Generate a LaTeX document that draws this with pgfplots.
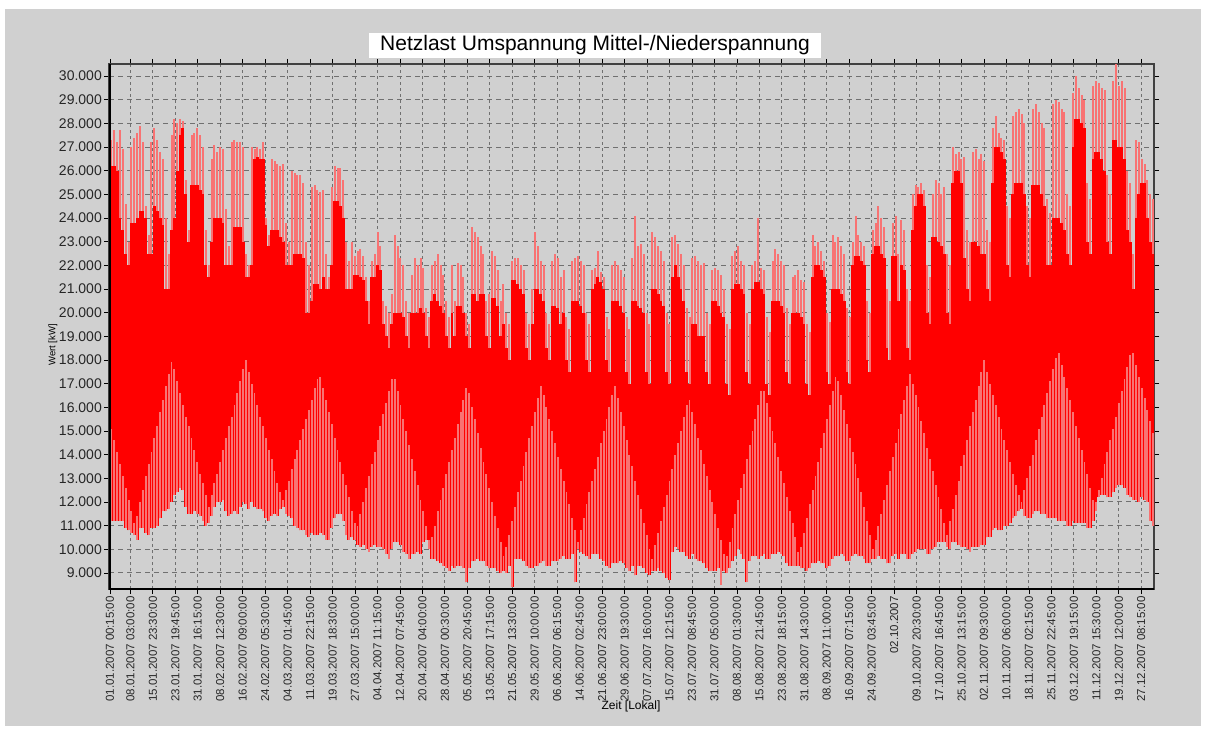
\documentclass[border=0pt]{standalone}
\usepackage{fontspec}
\setmainfont{Liberation Sans}
\usepackage{pgfplots}
\pgfplotsset{compat=1.18}
\usepackage{pgfplotstable}
\definecolor{bggrey}{RGB}{208,208,208}
\definecolor{lightred}{RGB}{248,115,115}
\definecolor{gridgrey}{RGB}{112,112,112}
\definecolor{coreRed}{RGB}{255,0,0}

% day, daily minimum (lo), lower edge of dense band (clo), upper edge of dense band (chi), daily maximum (hi), kW
\pgfplotstableread{
d lo clo chi hi
0 11200 15100 26200 27300
1 11200 14600 26200 27700
2 11200 14100 26000 27200
3 11200 13600 24000 27700
4 11200 13100 23500 26900
5 10900 12600 22500 24600
6 10800 12100 22000 23000
7 10700 11600 23800 27000
8 10600 11100 23800 27400
9 10400 11400 24000 27600
10 10900 12000 24300 27900
11 10900 12500 24300 27200
12 10700 13100 24000 24500
13 10600 13600 22500 23300
14 10900 14100 22500 27200
15 10900 14700 24500 27800
16 11000 15200 24300 27300
17 11300 15800 24000 26800
18 11600 16300 23700 26500
19 11600 16900 21000 24000
20 11700 17400 21000 22500
21 12000 17900 23500 27500
22 12300 17600 24000 28200
23 12400 17100 26000 28000
24 12600 16600 27500 28200
25 12500 16100 27800 28100
26 11800 15600 25000 25600
27 11500 15200 23000 23500
28 11500 14700 25400 27500
29 11600 14200 25400 27600
30 11500 13700 25400 27800
31 11400 13200 25200 27500
32 11200 12800 25000 27000
33 11000 12300 22000 23500
34 11100 11800 21500 22000
35 11400 12300 23000 26500
36 11800 12800 24000 27100
37 12000 13200 24000 26800
38 12000 13700 24000 27000
39 12100 14200 23800 26900
40 11600 14700 22000 24400
41 11400 15200 22000 22800
42 11500 15600 22000 27200
43 11600 16100 23600 27300
44 11500 16600 23600 27200
45 11800 17100 23600 27200
46 12000 17600 23000 27000
47 11900 18000 21500 22500
48 11700 17500 21500 22000
49 12000 17000 22000 27000
50 11800 16600 26500 26900
51 11700 16100 26600 27000
52 11700 15600 26500 26900
53 11600 15200 26500 27200
54 11300 14700 23700 24000
55 11200 14200 22800 23300
56 11400 13800 23500 26500
57 11500 13300 23500 26400
58 11400 12800 23500 26300
59 11700 12400 23200 26200
60 11800 12100 23000 26300
61 11500 12500 22000 23800
62 11400 12900 22000 23000
63 11300 13400 22000 26000
64 11000 13800 22500 25900
65 10900 14200 22500 25800
66 10800 14600 22500 25800
67 10800 15100 22300 25500
68 10600 15500 20000 23000
69 10500 15900 20000 22000
70 10700 16300 20500 25300
71 10600 16800 21200 25400
72 10600 17200 21200 25200
73 10700 17300 21000 25100
74 10600 16800 21500 25200
75 10400 16300 21000 22500
76 10400 15800 21000 21500
77 10900 15300 22000 25300
78 11300 14700 24700 26200
79 11500 14200 24700 26100
80 11500 13700 24500 26100
81 11200 13200 24000 25600
82 10600 12700 21000 23000
83 10400 12200 21000 22200
84 10500 11600 21000 23000
85 10400 11100 21600 22400
86 10200 11000 21600 22600
87 10100 11500 21500 22700
88 10200 12000 21400 22400
89 10000 12600 20500 21500
90 9900 13100 19500 20500
91 10100 13600 21500 22200
92 10200 14100 21500 22500
93 10100 14600 22000 23400
94 10100 15200 21800 22800
95 10000 15700 19500 20500
96 9800 16200 19000 20300
97 9600 16700 18500 20000
98 10000 17200 19500 20800
99 10300 17200 20000 23300
100 10300 16700 20000 22800
101 10200 16100 20000 22300
102 9900 15500 19800 22000
103 9800 15000 19000 20500
104 9600 14400 18500 20000
105 9800 13800 20000 21600
106 9800 13300 20000 22300
107 9900 12700 20000 22000
108 9800 12100 20200 22300
109 10300 11600 20000 21900
110 10400 11000 19000 20200
111 10000 10400 18500 19800
112 9600 10500 20500 22000
113 9600 11000 20800 22200
114 9500 11600 20500 22500
115 9400 12100 20300 22000
116 9300 12600 20000 21600
117 9200 13200 19000 20500
118 9100 13700 18500 19800
119 9300 14200 20000 22000
120 9200 14700 19000 20500
121 9300 15300 20300 22100
122 9300 15800 20300 22000
123 9200 16300 20000 21500
124 8600 16800 19000 20000
125 9200 16600 18500 19500
126 9500 16000 20800 23600
127 9500 15500 20800 23400
128 9600 14900 20500 23200
129 9500 14300 20800 22800
130 9500 13700 20800 22500
131 9300 13200 19000 20500
132 9200 12600 18500 20800
133 9200 12000 20600 22600
134 9200 11400 20600 22400
135 9100 10900 20300 21800
136 9000 10300 19000 20500
137 9100 9700 19500 21200
138 9000 10100 18500 20000
139 9300 10600 18000 19500
140 8400 11200 21400 22200
141 9600 11800 21400 22300
142 9600 12400 21200 22300
143 9600 12900 21000 22000
144 9500 13500 20800 21800
145 9300 14100 18500 20000
146 9200 14700 18000 19500
147 9200 15200 19500 21000
148 9300 15800 21000 23400
149 9300 16400 21000 22800
150 9400 16900 20800 22200
151 9500 16500 20500 22000
152 9300 16000 18500 20000
153 9300 15500 18000 19500
154 9500 15000 20300 22200
155 9500 14500 20300 22500
156 9500 13900 20200 22300
157 9600 13400 19500 21500
158 9700 12900 20000 21800
159 9600 12400 18000 19800
160 9600 11900 17500 19300
161 9800 11300 20500 22200
162 8600 10800 20500 22300
163 10000 10300 20500 22400
164 9900 10800 20300 22200
165 9800 11300 20000 22000
166 9700 11900 18000 20000
167 9600 12400 17500 19500
168 9800 12900 21000 21800
169 9800 13400 21200 21900
170 9800 13900 21500 22600
171 9600 14500 21300 21700
172 9500 15000 21000 21500
173 9300 15500 18000 19800
174 9200 16000 17500 19300
175 9400 16500 20500 22000
176 9400 16900 20500 22200
177 9400 16400 20500 22000
178 9500 15800 20300 21800
179 9400 15200 20000 21500
180 9200 14600 17500 19800
181 9100 14000 17000 19300
182 9300 13500 20500 22300
183 8900 12900 20500 24100
184 9300 12300 20300 22800
185 9300 11700 20200 22900
186 9200 11100 20000 22500
187 9000 10600 17500 20000
188 8900 10000 17000 19500
189 9100 9600 21000 23400
190 9100 10200 21000 23200
191 9200 10700 20800 22800
192 9100 11200 20500 22600
193 9000 11800 20300 22200
194 8800 12300 17500 20000
195 8700 12900 17000 19500
196 9900 13400 21500 23200
197 10100 14000 22000 23300
198 10000 14500 21500 22900
199 9900 15000 21000 22500
200 9900 15600 20500 22000
201 9700 16100 17500 20200
202 9600 16300 17000 19800
203 9800 15800 19500 22300
204 9600 15300 19500 22400
205 9500 14700 19000 22200
206 9500 14200 19000 22000
207 9400 13600 19000 22100
208 9200 13100 17500 20000
209 9100 12500 17000 19500
210 9100 12000 20500 21800
211 9100 11500 20500 21900
212 9200 10900 20300 21800
213 8500 10400 20000 21600
214 9100 9800 19800 21000
215 9000 9700 17000 19500
216 9200 10300 16500 19300
217 9500 10900 21000 22400
218 9700 11500 21200 22600
219 10000 12100 21200 22800
220 9800 12600 21000 22200
221 9600 13200 20800 22000
222 8600 13800 17500 20000
223 9500 14400 17000 19500
224 9700 15000 21000 22000
225 9700 15500 21300 22200
226 9600 16100 21300 24000
227 9700 16700 21000 21900
228 9800 16700 20800 21800
229 9600 16200 17000 19800
230 9600 15600 16500 19200
231 9800 15000 20500 22200
232 9800 14500 20500 22700
233 9900 13900 20500 22500
234 9800 13300 20300 22200
235 9700 12800 20000 22000
236 9400 12200 17500 20200
237 9300 11600 17000 19500
238 9300 11100 20000 21500
239 9300 10500 20000 21600
240 9300 9900 20000 21800
241 9200 10100 19800 21400
242 9200 10700 19500 21300
243 9100 11300 17000 19500
244 9200 11900 16500 19200
245 9400 12500 21500 23300
246 9400 13100 22000 22800
247 9500 13700 22000 23000
248 9400 14300 21800 22600
249 9400 14900 21500 22200
250 9200 15500 17500 20000
251 9300 16100 17000 19600
252 9600 16700 21000 23300
253 9700 17300 21000 23000
254 9700 17100 21000 23200
255 9800 16500 20800 22800
256 9700 15900 20500 22500
257 9500 15300 17500 20200
258 9500 14700 17000 19800
259 9700 14100 22000 23000
260 9800 13600 22400 24100
261 9700 13000 22400 23300
262 9700 12400 22200 23000
263 9600 11800 22000 22800
264 9400 11200 18000 20500
265 9400 10600 17500 20000
266 9600 10000 22500 23500
267 9600 10400 22800 23800
268 9700 11000 22800 24500
269 9600 11500 22500 24000
270 9600 12100 22300 23600
271 9400 12700 18500 21000
272 9400 13300 18000 20500
273 9700 13900 22400 23800
274 9800 14500 22400 24100
275 9600 15100 20500 22500
276 9800 15700 22000 23900
277 9800 16300 21800 23500
278 9600 16900 18500 21000
279 9600 17400 18000 20500
280 9800 17000 23500 25000
281 9900 16500 24500 25400
282 10000 16000 25000 25300
283 10000 15400 25000 25500
284 10000 14900 24500 25200
285 9800 14300 20000 22000
286 9800 13800 19500 21500
287 10000 13300 23200 25000
288 10100 12700 23200 25600
289 10300 12200 23000 25500
290 10300 11700 22800 25000
291 10300 11100 22500 25300
292 10100 10600 20000 22500
293 10000 11200 19500 22000
294 10300 11700 25500 27000
295 10300 12300 26000 26700
296 10200 12900 26000 26800
297 10100 13500 25500 26500
298 10100 14000 22300 26600
299 10000 14600 21000 23500
300 9900 15200 20500 23000
301 10100 15800 23000 26800
302 10100 16300 23000 26900
303 10100 16900 22800 26500
304 10200 17500 22500 26700
305 10200 18000 22500 26400
306 10500 17500 21000 23500
307 10500 17000 20500 23000
308 10800 16500 25500 27800
309 10900 16100 27000 28300
310 10800 15600 27000 27600
311 10800 15100 26800 27400
312 11000 14600 26500 27300
313 11000 14200 22000 24500
314 11100 13700 21500 24000
315 11300 13200 25000 28300
316 11400 12700 25500 28500
317 11600 12300 25500 28600
318 11700 12000 25500 28400
319 11400 12500 25000 28000
320 11300 13000 22000 24500
321 11300 13500 21500 24000
322 11500 14000 25400 28600
323 11600 14600 25400 28800
324 11600 15100 25400 28500
325 11500 15600 25000 28000
326 11500 16100 24500 27800
327 11300 16600 22000 24800
328 11300 17100 22000 24200
329 11300 17600 24000 28800
330 11300 18100 24000 29000
331 11200 18300 24000 28900
332 11200 17800 23800 28600
333 11200 17300 23500 28500
334 11000 16800 22500 25000
335 11000 16300 22000 24500
336 11200 15800 27000 29300
337 11100 15200 28200 30000
338 11100 14700 28200 29500
339 11100 14200 28000 29200
340 11100 13700 27800 29000
341 10900 13200 23000 25500
342 10900 12600 22500 24800
343 11200 12100 26500 29600
344 11600 12000 26800 29800
345 12200 12500 26800 29700
346 12300 13000 26500 29500
347 12300 13600 26000 29400
348 12200 14100 23000 25800
349 12200 14600 22500 25000
350 12400 15100 27300 29800
351 12600 15600 27300 30500
352 12700 16200 27000 29600
353 12700 16700 27000 29800
354 12600 17200 26500 29500
355 12300 17700 23500 26000
356 12200 18200 23000 25500
357 12100 18300 21000 22500
358 12100 17800 24000 27300
359 12000 17300 25000 27200
360 12200 16800 25500 26500
361 12100 16400 25500 26300
362 12000 15900 24000 25600
363 11200 15400 23000 25000
364 11000 14900 22500 24800
}\loaddata

\begin{document}
\begin{tikzpicture}[x=1pt,y=1pt]
\fill[white] (0,0) rectangle (1206,729);
\fill[bggrey] (5,3) rectangle (1201,720);
\begin{axis}[
  at={(109pt,140pt)}, anchor=south west,
  width=1045pt, height=525pt, scale only axis,
  xmin=-0.34, xmax=364.8, ymin=8320, ymax=30510,
  scaled y ticks=false, scaled x ticks=false,
  axis background/.style={fill=bggrey},
  grid=major,
  x grid style={gridgrey, line width=0.9pt, dash pattern=on 3pt off 3pt},
  y grid style={gridgrey, line width=0.9pt, dash pattern=on 5pt off 4pt},
  xtick={0.0104,7.125,14.979,22.823,30.677,38.521,46.375,54.229,62.073,69.927,77.771,85.625,93.469,101.323,109.167,117.021,124.865,132.719,140.563,148.417,156.260,164.115,171.958,179.813,187.667,195.510,203.365,211.208,219.063,226.906,234.760,242.604,250.458,258.302,266.156,274.0,281.854,289.698,297.552,305.396,313.25,321.094,328.948,336.802,344.646,352.5,360.344},
  xticklabels={01.01.2007 00:15:00,08.01.2007 03:00:00,15.01.2007 23:30:00,23.01.2007 19:45:00,31.01.2007 16:15:00,08.02.2007 12:30:00,16.02.2007 09:00:00,24.02.2007 05:30:00,04.03.2007 01:45:00,11.03.2007 22:15:00,19.03.2007 18:30:00,27.03.2007 15:00:00,04.04.2007 11:15:00,12.04.2007 07:45:00,20.04.2007 04:00:00,28.04.2007 00:30:00,05.05.2007 20:45:00,13.05.2007 17:15:00,21.05.2007 13:30:00,29.05.2007 10:00:00,06.06.2007 06:15:00,14.06.2007 02:45:00,21.06.2007 23:00:00,29.06.2007 19:30:00,07.07.2007 16:00:00,15.07.2007 12:15:00,23.07.2007 08:45:00,31.07.2007 05:00:00,08.08.2007 01:30:00,15.08.2007 21:45:00,23.08.2007 18:15:00,31.08.2007 14:30:00,08.09.2007 11:00:00,16.09.2007 07:15:00,24.09.2007 03:45:00,02.10.2007,09.10.2007 20:30:00,17.10.2007 16:45:00,25.10.2007 13:15:00,02.11.2007 09:30:00,10.11.2007 06:00:00,18.11.2007 02:15:00,25.11.2007 22:45:00,03.12.2007 19:15:00,11.12.2007 15:30:00,19.12.2007 12:00:00,27.12.2007 08:15:00},
  x tick label style={rotate=90, anchor=east, font=\fontsize{11.5}{12}\selectfont, text=black!85, inner sep=2pt},
  ytick={9000,10000,...,30000},
  yticklabels={9.000,10.000,11.000,12.000,13.000,14.000,15.000,16.000,17.000,18.000,19.000,20.000,21.000,22.000,23.000,24.000,25.000,26.000,27.000,28.000,29.000,30.000},
  y tick label style={font=\fontsize{14}{15}\selectfont, text=black!85, inner sep=2pt},
  tick align=outside, major tick length=5pt,
  tick style={black, line width=0.8pt},
  axis line style={black!75, line width=1.5pt},
  clip=true,
]
% daily range (minimum to maximum)
\addplot[lightred, line width=2pt, quiver={u=0, v={\thisrow{hi}-\thisrow{lo}}}]
  table[x expr=\thisrow{d}+0.5, y=lo] {\loaddata};
% dense band
\addplot[coreRed, line width=2.95pt, quiver={u=0, v={\thisrow{chi}-\thisrow{lo}}}]
  table[x expr=\thisrow{d}+0.5, y=lo] {\loaddata};
% light strips below the dense band
\addplot[lightred, line width=1.9pt, quiver={u=0, v={\thisrow{clo}-\thisrow{lo}}}]
  table[x expr=\thisrow{d}+0.5, y=lo] {\loaddata};
\draw[black, line width=3pt] (rel axis cs:0,0) -- (rel axis cs:0,1);
\draw[black, line width=2.5pt] (rel axis cs:0,0) -- (rel axis cs:1,0);
\end{axis}
\node[fill=white, minimum width=452pt, minimum height=25pt, inner sep=0pt,
  font=\fontsize{21}{22}\selectfont] at (595,683.5) {Netzlast Umspannung Mittel-/Niederspannung};
\node[rotate=90, font=\fontsize{9.5}{10}\selectfont] at (53,384) {Wert [kW]};
\node[font=\fontsize{12}{13}\selectfont] at (631,23) {Zeit [Lokal]};
\end{tikzpicture}
\end{document}
